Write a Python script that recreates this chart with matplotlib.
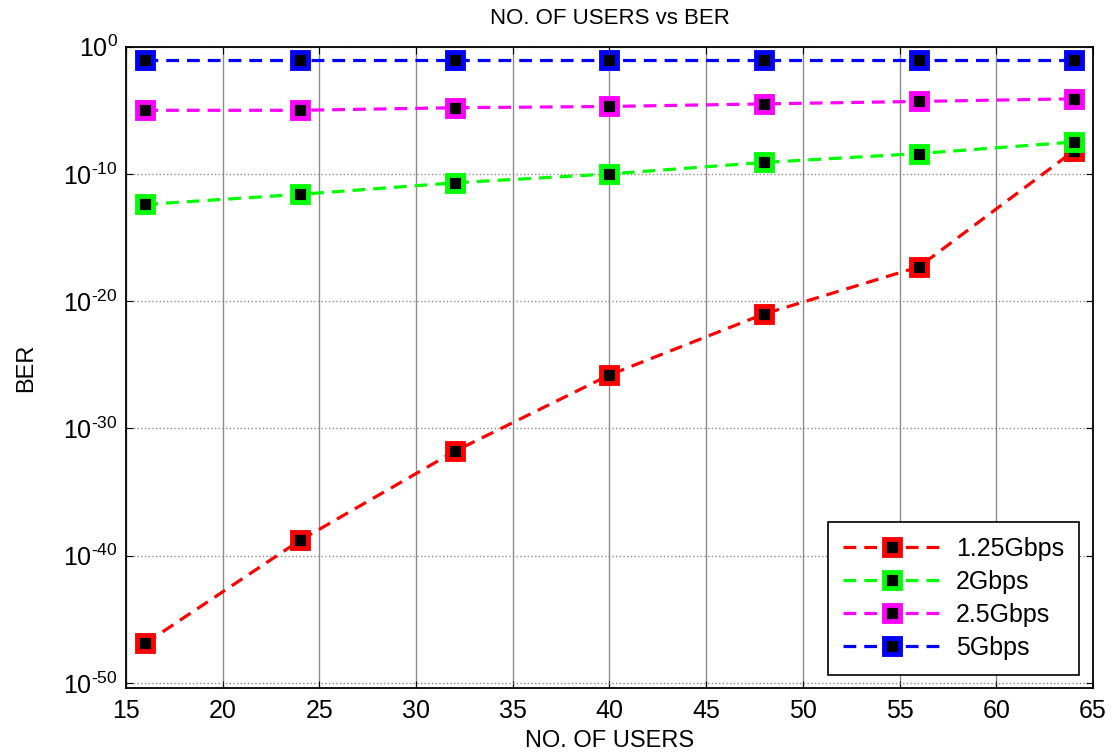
import matplotlib.pyplot as plt
import numpy as np
from matplotlib.ticker import FuncFormatter

plt.rcParams['font.family'] = ['Liberation Sans', 'DejaVu Sans']
plt.rcParams['mathtext.default'] = 'regular'

users = [16, 24, 32, 40, 48, 56, 64]
ber_125 = [1.3e-47, 1.6e-39, 1.6e-32, 1.6e-26, 1.0e-21, 5.0e-18, 6.3e-9]
ber_2 = [4.0e-13, 2.5e-12, 2.0e-11, 1.0e-10, 8.0e-10, 4.0e-9, 3.2e-8]
ber_25 = [1.0e-5, 1.0e-5, 1.6e-5, 2.0e-5, 3.2e-5, 5.0e-5, 8.0e-5]
ber_5 = [0.09, 0.09, 0.09, 0.09, 0.09, 0.09, 0.09]

labels = ['1.25Gbps', '2Gbps', '2.5Gbps', '5Gbps']
colors = ['#ff0000', '#00ff00', '#ff00ff', '#0000ff']


def exp_label(v, pos):
    e = int(round(np.log10(v)))
    if e < 0:
        return '$10^{\u2010' + str(-e) + '}$'
    return '$10^{' + str(e) + '}$'


fig = plt.figure(figsize=(11.18, 7.53), dpi=100)
ax = fig.add_axes([0.1127, 0.0863, 0.8649, 0.8517])

for ys, lab, c in zip([ber_125, ber_2, ber_25, ber_5], labels, colors):
    ax.semilogy(users, ys, linestyle=(0, (4, 2.5)), color=c, lw=2.3,
                marker='s', markersize=12, markerfacecolor='black',
                markeredgecolor=c, markeredgewidth=3.5, label=lab)

ax.set_xlim(15, 65)
ax.set_ylim(10**-50.4, 1)
ax.set_xticks(np.arange(15, 66, 5))
ax.set_yticks([1e-50, 1e-40, 1e-30, 1e-20, 1e-10, 1e0])
ax.yaxis.set_major_formatter(FuncFormatter(exp_label))
ax.minorticks_off()
ax.tick_params(direction='in', labelsize=18, length=5, top=True, right=True)
ax.tick_params(axis='x', pad=8)
ax.tick_params(axis='y', pad=6)

ax.xaxis.grid(True, color='#8c8c8c', lw=1, ls='-')
ax.yaxis.grid(True, color='#8c8c8c', lw=1, ls=':')
for s in ax.spines.values():
    s.set_linewidth(1.3)

ax.set_title('NO. OF USERS vs BER', fontsize=16, pad=16)
ax.set_xlabel('NO. OF USERS', fontsize=17, labelpad=5)
ax.set_ylabel('BER', fontsize=17, labelpad=19)

leg = ax.legend(loc='lower right', fontsize=18, handlelength=3.9, fancybox=False,
                edgecolor='black', framealpha=1, borderpad=0.6, labelspacing=0.36,
                handletextpad=0.6, borderaxespad=0, bbox_to_anchor=(0.9855, 0.02))
leg.get_frame().set_linewidth(1.2)

fig.savefig('out.png', dpi=100)
